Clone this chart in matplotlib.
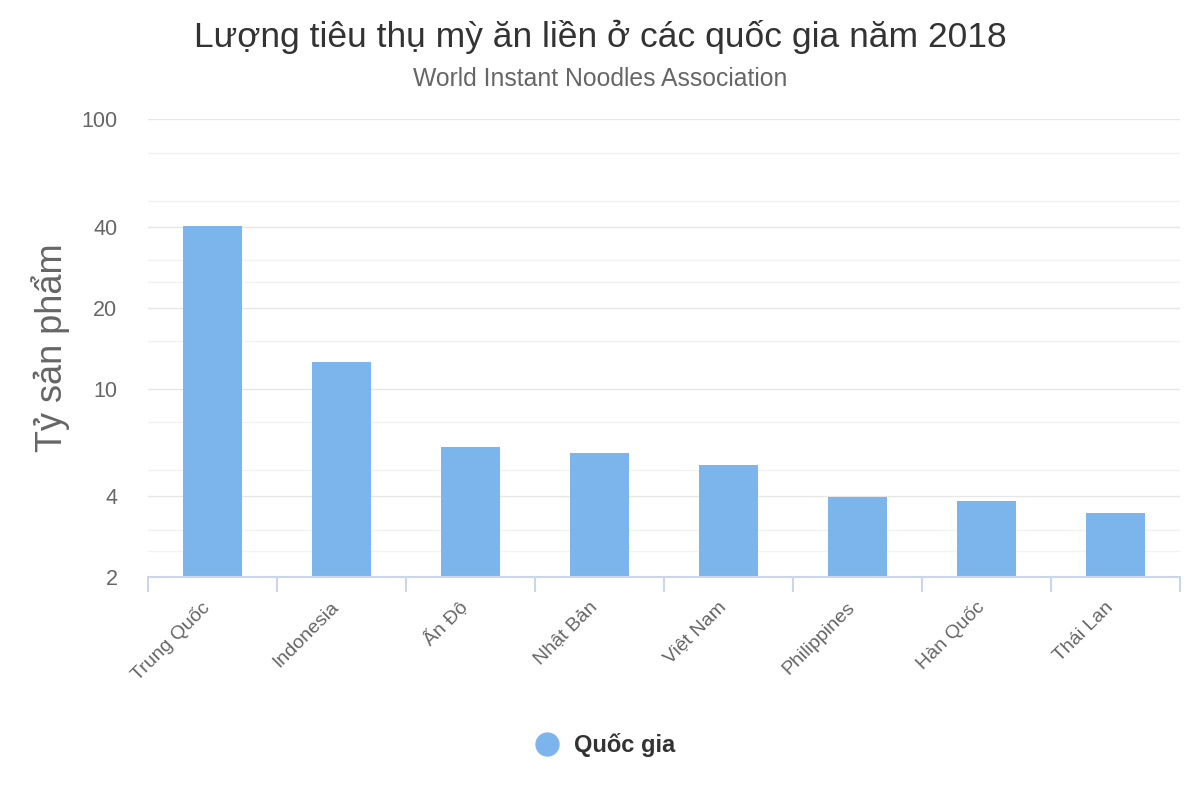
import matplotlib
matplotlib.use("Agg")
import matplotlib.pyplot as plt
import matplotlib.transforms as mtransforms
from matplotlib.lines import Line2D

plt.rcParams["font.family"] = ["Liberation Sans", "DejaVu Sans"]

# data
countries = ["Trung Quốc", "Indonesia", "Ấn Độ", "Nhật Bản", "Việt Nam",
             "Philippines", "Hàn Quốc", "Thái Lan"]
consumption = [40.25, 12.54, 6.06, 5.78, 5.20, 3.98, 3.82, 3.46]
major_ticks = [2, 4, 10, 20, 40, 100]
minor_ticks = [2.5, 3, 5, 7.5, 15, 25, 30, 50, 75]

title = "Lượng tiêu thụ mỳ ăn liền ở các quốc gia năm 2018"
subtitle = "World Instant Noodles Association"
y_title = "Tỷ sản phẩm"
series_name = "Quốc gia"

bar_color = "#7cb5ec"
axis_color = "#ccd6eb"
label_color = "#666666"

fig = plt.figure(figsize=(12, 8), dpi=100)
ax = fig.add_axes([148 / 1200, 1 - 577 / 800, 1032 / 1200, (577 - 119.5) / 800])

x = list(range(len(countries)))
ax.bar(x, consumption, width=0.465, color=bar_color, zorder=3)

ax.set_yscale("log")
ax.set_ylim(2, 100)
ax.set_xlim(-0.5, len(countries) - 0.5)

ax.set_yticks(major_ticks)
ax.set_yticklabels([str(t) for t in major_ticks])
ax.set_yticks(minor_ticks, minor=True)
ax.yaxis.set_tick_params(which="both", length=0)
ax.yaxis.set_tick_params(which="major", pad=22, labelsize=15.5, labelcolor=label_color)
ax.yaxis.set_tick_params(which="minor", labelleft=False)
ax.grid(axis="y", which="major", color="#e6e6e6", linewidth=1.0, zorder=0)
ax.grid(axis="y", which="minor", color="#f2f2f2", linewidth=1.0, zorder=0)

ax.set_xticks(x)
ax.set_xticklabels(countries, rotation=45, ha="right", va="center",
                   rotation_mode="anchor", fontsize=14, color=label_color)
ax.xaxis.set_tick_params(which="major", length=0, pad=20)
ax.set_xticks([i - 0.5 for i in range(len(countries) + 1)], minor=True)
ax.xaxis.set_tick_params(which="minor", length=11, width=1.5, color=axis_color)

# nudge rotated labels a little to the left
shift = mtransforms.ScaledTranslation(-5 / 100, 0, fig.dpi_scale_trans)
for lab in ax.get_xticklabels():
    lab.set_transform(lab.get_transform() + shift)

for side in ["top", "right", "left"]:
    ax.spines[side].set_visible(False)
ax.spines["bottom"].set_color(axis_color)
ax.spines["bottom"].set_linewidth(1.5)
ax.spines["bottom"].set_zorder(4)

fig.text(0.5, 1 - 37 / 800, title, ha="center", va="center", fontsize=25.5, color="#333333")
fig.text(0.5, 1 - 79 / 800, subtitle, ha="center", va="center", fontsize=17.8, color=label_color)
fig.text(51 / 1200, 1 - 348 / 800, y_title, ha="center", va="center", rotation=90,
         fontsize=26, color=label_color)

handle = Line2D([], [], marker="o", linestyle="none", markersize=16.5,
                markerfacecolor=bar_color, markeredgecolor=bar_color)
leg = fig.legend([handle], [series_name], loc="center",
                 bbox_to_anchor=(603 / 1200, 1 - 745 / 800), frameon=False,
                 handletextpad=0.45, handlelength=1.4, prop={"size": 17, "weight": "bold"})
for t in leg.get_texts():
    t.set_color("#333333")

fig.savefig("out.png", dpi=100)
